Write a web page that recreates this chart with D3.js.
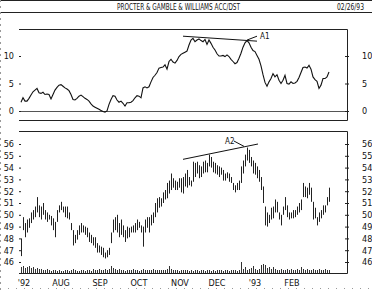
<!DOCTYPE html>
<html>
<head>
<meta charset="utf-8">
<script src="https://cdn.jsdelivr.net/npm/d3@7"></script>
<style>
  body { margin: 0; background: #fff; }
  svg { display: block; }
  text { font-family: "Liberation Sans Narrow", "DejaVu Sans Condensed", "Liberation Sans", sans-serif; fill: #111; }
</style>
</head>
<body>
<div id="chart"></div>
<script>
// daily price range (high / low), one entry per trading day
const highs = [
  48.0, 49.8, 49.3, 49.6, 49.7, 50.2, 50.4, 50.7, 51.5, 50.8,
  50.7, 51.0, 50.4, 50.2, 50.0, 49.9, 49.7, 49.4, 50.4, 50.8,
  51.1, 50.7, 50.7, 50.7, 50.2, 49.3, 48.7, 48.3, 48.7, 49.1,
  49.3, 49.1, 49.0, 48.9, 48.5, 48.3, 48.1, 48.1, 47.6, 47.4,
  47.3, 47.2, 46.8, 47.0, 47.2, 48.5, 49.6, 49.8, 50.0, 49.3,
  49.6, 49.1, 48.7, 49.0, 48.9, 49.0, 49.1, 49.3, 49.6, 49.4,
  49.1, 49.0, 49.6, 49.8, 49.8, 50.0, 50.2, 51.0, 51.4, 51.5,
  51.4, 51.9, 52.1, 52.7, 52.9, 53.5, 53.1, 52.9, 52.8, 53.1,
  53.1, 53.2, 53.5, 53.8, 53.2, 52.9, 54.5, 54.4, 54.5, 54.2,
  54.1, 54.5, 54.6, 54.4, 55.1, 54.9, 54.5, 54.4, 54.2, 54.1,
  54.0, 53.8, 53.5, 53.6, 53.5, 53.2, 52.7, 52.5, 52.7, 52.9,
  54.1, 54.6, 55.1, 55.7, 55.5, 54.9, 54.6, 54.4, 54.1, 53.8,
  53.2, 52.4, 50.7, 50.2, 50.0, 50.6, 50.7, 51.3, 51.1, 50.2,
  50.0, 50.7, 51.5, 50.8, 50.2, 50.2, 50.4, 50.4, 50.7, 51.0,
  51.3, 52.7, 52.4, 52.3, 52.7, 52.3, 51.1, 50.6, 49.8, 50.2,
  50.4, 50.8, 50.8, 51.5, 52.3
];
const lows = [
  46.5, 48.7, 48.1, 48.5, 48.9, 49.3, 49.6, 49.8, 50.2, 49.8,
  49.6, 50.0, 49.6, 49.4, 49.6, 49.1, 48.7, 48.1, 49.4, 50.2,
  50.4, 50.2, 49.8, 49.7, 49.6, 48.7, 47.4, 47.6, 47.9, 48.3,
  48.5, 48.5, 48.3, 48.1, 47.7, 47.6, 47.4, 47.2, 46.8, 46.8,
  46.6, 46.4, 46.3, 46.4, 46.6, 47.6, 48.5, 48.7, 48.5, 48.1,
  48.3, 48.1, 47.7, 48.0, 48.1, 48.5, 48.5, 48.5, 48.7, 48.9,
  48.5, 47.3, 48.5, 48.9, 48.5, 49.1, 49.3, 49.8, 50.2, 50.6,
  50.7, 51.0, 51.3, 51.4, 51.8, 52.1, 52.3, 52.1, 52.1, 52.3,
  51.9, 51.8, 52.4, 52.3, 52.5, 52.4, 52.8, 53.2, 53.5, 53.1,
  53.2, 53.5, 53.6, 53.6, 54.1, 54.0, 53.6, 53.5, 53.4, 53.2,
  53.4, 52.9, 52.9, 53.1, 52.8, 52.7, 52.1, 51.9, 52.1, 52.1,
  52.7, 53.5, 54.1, 54.6, 54.4, 54.1, 53.5, 53.4, 53.1, 52.8,
  52.1, 51.0, 49.1, 49.0, 49.3, 49.6, 49.7, 50.2, 50.2, 49.6,
  49.1, 50.0, 50.4, 49.8, 49.6, 49.7, 49.7, 49.8, 50.0, 50.2,
  50.4, 51.5, 51.5, 51.4, 51.7, 51.1, 49.6, 49.7, 49.1, 49.4,
  49.7, 50.0, 50.2, 50.8, 51.1
];
const volume = [
  6, 7, 5, 6, 7, 5, 6, 4, 5, 4, 4,
  3, 3, 4, 3, 2, 3, 3, 2, 3, 2,
  2, 3, 3, 2, 3, 4, 3, 2, 2, 3,
  3, 2, 3, 3, 2, 4, 3, 3, 4, 3,
  3, 4, 3, 4, 7, 5, 4, 3, 4, 3,
  3, 2, 3, 3, 3, 4, 3, 3, 2, 3,
  4, 3, 3, 3, 3, 4, 3, 3, 3, 3,
  3, 3, 4, 7, 4, 3, 3, 3, 2, 3,
  3, 3, 3, 2, 3, 2, 3, 3, 2, 3,
  3, 2, 3, 3, 2, 3, 2, 3, 3, 3,
  2, 3, 3, 2, 3, 3, 3, 2, 3, 11,
  4, 6, 3, 4, 5, 7, 4, 3, 4, 8,
  9, 8, 5, 6, 4, 6, 4, 3, 3, 4,
  3, 3, 4, 3, 4, 3, 3, 4, 3, 6,
  4, 3, 4, 3, 3, 4, 3, 3, 4, 3,
  3, 4, 3, 3
];
// accumulation / distribution indicator
const accDst = [
  1.6, 2.4, 1.8, 1.8, 2.3, 2.9, 3.5, 3.8, 4.1, 3.3,
  3.2, 3.4, 3.0, 3.1, 3.0, 2.2, 3.0, 3.8, 4.3, 4.7,
  4.8, 4.5, 4.2, 4.0, 3.7, 3.0, 2.1, 2.0, 2.3, 2.7,
  2.9, 2.6, 2.3, 2.1, 1.8, 1.3, 0.9, 0.7, 0.5, 0.3,
  0.1, -0.1, -0.2, 0.0, 1.2, 2.1, 2.8, 2.7, 2.0, 1.6,
  1.8, 1.4, 0.9, 1.5, 1.5, 1.6, 1.9, 2.4, 2.8, 2.7,
  2.4, 4.2, 4.4, 4.2, 4.4, 5.3, 6.1, 6.5, 7.0, 7.8,
  7.9, 8.0, 8.4, 7.6, 9.0, 9.4, 8.9, 8.7, 9.2, 9.9,
  10.3, 10.5, 10.7, 10.9, 12.0, 12.9, 13.2, 12.6, 12.9, 13.1,
  12.8, 12.6, 13.0, 12.1, 12.9, 12.3, 11.6, 11.1, 10.4, 10.0,
  10.0, 10.1, 9.9, 10.2, 9.9, 9.4, 9.0, 8.6, 8.8, 9.6,
  10.5, 11.6, 12.4, 12.8, 12.4, 11.6, 11.0, 10.8, 10.1, 9.4,
  8.2, 6.6, 5.2, 4.5, 5.3, 5.9, 6.8, 6.2, 6.6, 5.6,
  5.0, 5.6, 6.5, 5.0, 4.9, 5.3, 5.0, 5.1, 5.4, 6.1,
  7.0, 7.9, 8.0, 7.8, 8.3, 7.6, 6.2, 5.7, 5.4, 4.1,
  4.7, 5.9, 5.9, 6.2, 7.1
];

const monthLabels = ["'92", "AUG", "SEP", "OCT", "NOV", "DEC", "'93", "FEB"];
const monthDays = [1.5, 20, 39.5, 59, 79.5, 98, 117, 135.5];
const accTicks = [0, 5, 10];
const priceTicks = [46, 47, 48, 49, 50, 51, 52, 53, 54, 55, 56];

// hand drawn trend lines: [day, value]
const trendA1 = [[81, 13.6], [118, 12.7]];
const leaderA1 = [[113, 12.9], [118, 13.6]];
const trendA2 = [[81, 54.7], [118.5, 56.0]];
const leaderA2 = [[106.5, 56.25], [111.5, 55.8]];

const titleText = "PROCTER & GAMBLE & WILLIAMS ACC/DST";
const dateText = "02/26/93";

const width = 372, height = 290;
const left = 19, right = 347;

const svg = d3.select("#chart").append("svg")
    .attr("width", width)
    .attr("height", height);

// header
svg.append("line").attr("x1", 0).attr("x2", width).attr("y1", 0.5).attr("y2", 0.5)
    .attr("stroke", "#222");
svg.append("line").attr("x1", 0).attr("x2", width).attr("y1", 12.5).attr("y2", 12.5)
    .attr("stroke", "#222");
svg.append("text").attr("x", 117).attr("y", 9.5)
    .attr("font-size", 9)
    .attr("textLength", 123).attr("lengthAdjust", "spacingAndGlyphs")
    .text(titleText);
svg.append("text").attr("x", 337).attr("y", 9.5)
    .attr("font-size", 9)
    .attr("textLength", 27).attr("lengthAdjust", "spacingAndGlyphs")
    .text(dateText);

// edge marks from the scan
svg.append("line").attr("x1", 0.5).attr("x2", 0.5).attr("y1", 0).attr("y2", height)
    .attr("stroke", "#999").attr("stroke-dasharray", "2,4");
svg.append("line").attr("x1", 0).attr("x2", width).attr("y1", 288.5).attr("y2", 288.5)
    .attr("stroke", "#999").attr("stroke-dasharray", "1,7");

const x = d3.scaleLinear().domain([0, highs.length - 1]).range([21, 329]);
const yAcc = d3.scaleLinear().domain([0, 10]).range([111, 56]);
const yPrice = d3.scaleLinear().domain([46, 56]).range([262, 144]);
const yVol = d3.scaleLinear().domain([0, 12]).range([273, 261]);

const px = i => Math.round(x(i)) + 0.5;

// ---------- upper panel ----------
let upper = svg.append("g");

upper.append("path")
    .attr("d", `M${left},29.5H${right}.5V120.5H${left}`)
    .attr("fill", "none").attr("stroke", "#222");
upper.append("line")
    .attr("x1", left).attr("x2", right)
    .attr("y1", Math.round(yAcc(0)) + 0.5).attr("y2", Math.round(yAcc(0)) + 0.5)
    .attr("stroke", "#555");

upper.append("g")
    .attr("transform", "translate(21,0)")
    .call(d3.axisLeft(yAcc).tickValues(accTicks).tickSize(2).tickPadding(5))
    .call(g => g.select(".domain").remove());
upper.append("g")
    .attr("transform", "translate(345,0)")
    .call(d3.axisRight(yAcc).tickValues(accTicks).tickSize(4).tickPadding(13))
    .call(g => g.select(".domain").remove());

let accLine = d3.line().x((d, i) => x(i)).y(d => yAcc(d));
upper.append("path")
    .datum(accDst)
    .attr("d", accLine)
    .attr("fill", "none").attr("stroke", "#111").attr("stroke-width", 1.1);

let tline = d3.line().x(d => x(d[0]));
upper.append("path").datum(trendA1)
    .attr("d", tline.y(d => yAcc(d[1])))
    .attr("stroke", "#111").attr("fill", "none");
upper.append("path").datum(leaderA1)
    .attr("d", tline.y(d => yAcc(d[1])))
    .attr("stroke", "#111").attr("fill", "none");
upper.append("text")
    .attr("x", x(119.5)).attr("y", yAcc(13.6)).attr("dy", "0.35em")
    .attr("font-size", 8)
    .text("A1");

// ---------- lower panel ----------
let lower = svg.append("g");

lower.append("path")
    .attr("d", `M${left},131.5H${right}.5V273.5H${left}`)
    .attr("fill", "none").attr("stroke", "#222");

lower.append("g")
    .attr("transform", "translate(21,0)")
    .call(d3.axisLeft(yPrice).tickValues(priceTicks).tickSize(2).tickPadding(5))
    .call(g => g.select(".domain").remove());
lower.append("g")
    .attr("transform", "translate(345,0)")
    .call(d3.axisRight(yPrice).tickValues(priceTicks).tickSize(4).tickPadding(13))
    .call(g => g.select(".domain").remove());

// high-low bars
lower.selectAll(".bar")
    .data(highs)
    .enter()
    .append("line")
    .attr("class", "bar")
    .attr("x1", (d, i) => px(i)).attr("x2", (d, i) => px(i))
    .attr("y1", d => yPrice(d))
    .attr("y2", (d, i) => yPrice(lows[i]))
    .attr("stroke", "#222");

// volume
lower.selectAll(".vol")
    .data(volume)
    .enter()
    .append("line")
    .attr("class", "vol")
    .attr("x1", (d, i) => px(i)).attr("x2", (d, i) => px(i))
    .attr("y1", d => yVol(d))
    .attr("y2", yVol(0))
    .attr("stroke", "#333");

lower.append("path").datum(trendA2)
    .attr("d", tline.y(d => yPrice(d[1])))
    .attr("stroke", "#111").attr("fill", "none");
lower.append("path").datum(leaderA2)
    .attr("d", tline.y(d => yPrice(d[1])))
    .attr("stroke", "#111").attr("fill", "none");
lower.append("text")
    .attr("x", x(102)).attr("y", yPrice(56.2)).attr("dy", "0.35em")
    .attr("font-size", 8)
    .text("A2");

// month labels
svg.selectAll(".month")
    .data(monthLabels)
    .enter()
    .append("text")
    .attr("class", "month")
    .attr("x", (d, i) => x(monthDays[i]))
    .attr("y", 286)
    .attr("text-anchor", "middle")
    .attr("font-size", 9)
    .text(d => d);

svg.selectAll(".tick text").attr("font-size", 9).attr("font-family", null);
svg.selectAll(".tick line").attr("stroke", "#222");
</script>
</body>
</html>
